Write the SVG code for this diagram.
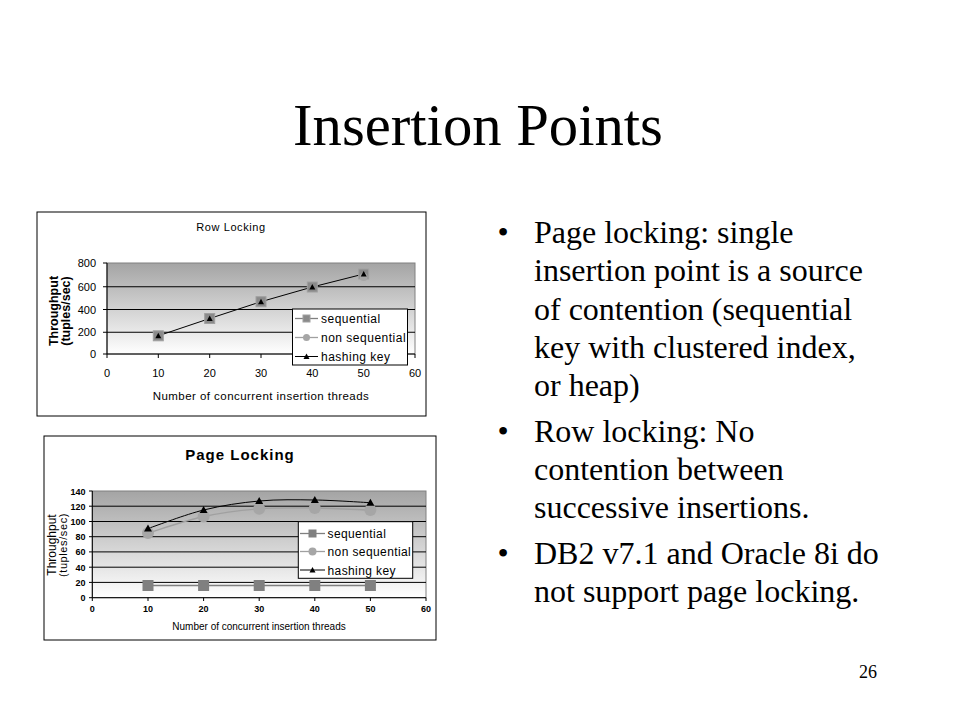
<svg xmlns="http://www.w3.org/2000/svg" xmlns:xlink="http://www.w3.org/1999/xlink" width="960" height="720" viewBox="0 0 960 720">
<defs>
<style>
.serif{font-family:"Liberation Serif","Times New Roman",serif;fill:#000}
.sans{font-family:"Liberation Sans",Arial,sans-serif;fill:#000}
.frame{fill:#fff;stroke:#000;stroke-width:1}
.grid{stroke:#000;stroke-width:1}
.pborder{fill:none;stroke:#808080;stroke-width:1}
.axis{stroke:#000;stroke-width:1;fill:none}
.tick{stroke:#000;stroke-width:1}
.seqline{stroke:#808080;stroke-width:1.3;fill:none}
.nsline{stroke:#a0a0a0;stroke-width:1.3;fill:none}
.hkline{stroke:#000;stroke-width:1;fill:none}
.seqm{fill:#8a8a8a;stroke:#a0a0a0;stroke-width:1}
.nsm{fill:#a6a6a6}
.hkm{fill:#000}
.legend{fill:#fff;stroke:#000;stroke-width:1}
</style>
<linearGradient id="bg" x1="0" y1="0" x2="0" y2="1">
<stop offset="0" stop-color="#a4a4a4"/>
<stop offset="1" stop-color="#ffffff"/>
</linearGradient>
<path id="tri" d="M0,-4 L4,3 L-4,3 Z"/>
<path id="tris" d="M0,-3 L3,2.5 L-3,2.5 Z"/>
</defs>
<rect width="960" height="720" fill="#fff"/>

<g id="title">
<text class="serif" x="478" y="145" font-size="58.67" text-anchor="middle">Insertion Points</text>
</g>

<g id="bullets" class="serif" font-size="32">
<text class="serif" x="503" y="243" text-anchor="middle">•</text>
<text class="serif" x="534" y="243">Page locking: single</text>
<text class="serif" x="534" y="281">insertion point is a source</text>
<text class="serif" x="534" y="319.5">of contention (sequential</text>
<text class="serif" x="534" y="357.5">key with clustered index,</text>
<text class="serif" x="534" y="396">or heap)</text>
<text class="serif" x="503" y="441.5" text-anchor="middle">•</text>
<text class="serif" x="534" y="441.5">Row locking: No</text>
<text class="serif" x="534" y="480">contention between</text>
<text class="serif" x="534" y="518">successive insertions.</text>
<text class="serif" x="503" y="564" text-anchor="middle">•</text>
<text class="serif" x="534" y="564">DB2 v7.1 and Oracle 8i do</text>
<text class="serif" x="534" y="602">not support page locking.</text>
</g>

<g id="chart-row">
<rect class="frame" x="37" y="212" width="389" height="204"/>
<text class="sans" x="231" y="231" font-size="11" letter-spacing="0.6" text-anchor="middle">Row Locking</text>
<rect x="107" y="263" width="308" height="91" fill="url(#bg)"/>
<rect class="pborder" x="107" y="263" width="308" height="91"/>
<line class="grid" x1="107" y1="286.75" x2="415" y2="286.75"/>
<line class="grid" x1="107" y1="309.5" x2="415" y2="309.5"/>
<line class="grid" x1="107" y1="332.25" x2="415" y2="332.25"/>
<line class="axis" x1="107" y1="263" x2="107" y2="354"/>
<line class="axis" x1="107" y1="354" x2="415" y2="354"/>
<g class="tick">
<line x1="103" y1="263" x2="107" y2="263"/><line x1="103" y1="286.75" x2="107" y2="286.75"/><line x1="103" y1="309.5" x2="107" y2="309.5"/><line x1="103" y1="332.25" x2="107" y2="332.25"/><line x1="103" y1="354" x2="107" y2="354"/>
<line x1="107" y1="354" x2="107" y2="358"/><line x1="158.3" y1="354" x2="158.3" y2="358"/><line x1="209.7" y1="354" x2="209.7" y2="358"/><line x1="261" y1="354" x2="261" y2="358"/><line x1="312.3" y1="354" x2="312.3" y2="358"/><line x1="363.7" y1="354" x2="363.7" y2="358"/><line x1="415" y1="354" x2="415" y2="358"/>
</g>
<g class="sans" font-size="11" text-anchor="end">
<text class="sans" x="96" y="267">800</text>
<text class="sans" x="96" y="290.5">600</text>
<text class="sans" x="96" y="313.5">400</text>
<text class="sans" x="96" y="336">200</text>
<text class="sans" x="96" y="358">0</text>
</g>
<g class="sans" font-size="11" text-anchor="middle">
<text class="sans" x="107" y="377">0</text>
<text class="sans" x="158.3" y="377">10</text>
<text class="sans" x="209.7" y="377">20</text>
<text class="sans" x="261" y="377">30</text>
<text class="sans" x="312.3" y="377">40</text>
<text class="sans" x="363.7" y="377">50</text>
<text class="sans" x="415" y="377">60</text>
</g>
<text class="sans" x="261" y="400" font-size="11.5" letter-spacing="0.45" text-anchor="middle">Number of concurrent insertion threads</text>
<text class="sans" transform="translate(57.5,311) rotate(-90)" font-size="12.5" font-weight="bold" text-anchor="middle">Throughput</text>
<text class="sans" transform="translate(70,311) rotate(-90)" font-size="12.5" font-weight="bold" text-anchor="middle">(tuples/sec)</text>
<polyline class="hkline" points="158.3,335.8 209.7,318.5 261,301.7 312.3,287 363.7,274"/>
<g class="seqm">
<rect x="153.3" y="330.8" width="10" height="10"/>
<rect x="204.7" y="313.5" width="10" height="10"/>
<rect x="256" y="296.7" width="10" height="10"/>
<rect x="307.3" y="282" width="10" height="10"/>
<rect x="358.7" y="269" width="10" height="10"/>
</g>
<circle class="nsm" cx="363.7" cy="277" r="4"/>
<g class="hkm">
<use xlink:href="#tris" x="158.3" y="335.8"/>
<use xlink:href="#tris" x="209.7" y="318.5"/>
<use xlink:href="#tris" x="261" y="301.7"/>
<use xlink:href="#tris" x="312.3" y="287"/>
<use xlink:href="#tris" x="363.7" y="274"/>
</g>
<g id="legend-row">
<rect class="legend" x="292.5" y="309" width="115" height="56"/>
<line class="seqline" x1="295" y1="318.5" x2="318" y2="318.5"/>
<rect class="seqm" x="303" y="315" width="7" height="7"/>
<line class="nsline" x1="295" y1="337.5" x2="318" y2="337.5"/>
<circle class="nsm" cx="306.5" cy="337.5" r="3.5"/>
<line class="hkline" x1="295" y1="356.5" x2="318" y2="356.5"/>
<use class="hkm" xlink:href="#tris" x="306.5" y="356.5"/>
<text class="sans" x="321" y="322.5" font-size="12" letter-spacing="0.5">sequential</text>
<text class="sans" x="321" y="341.5" font-size="12" letter-spacing="0.5">non sequential</text>
<text class="sans" x="321" y="360.5" font-size="12" letter-spacing="0.5">hashing key</text>
</g>
</g>

<g id="chart-page">
<rect class="frame" x="44" y="436" width="392" height="204"/>
<text class="sans" x="240" y="460" font-size="15" font-weight="bold" letter-spacing="1" text-anchor="middle">Page Locking</text>
<rect x="92.3" y="491" width="333.7" height="106.7" fill="url(#bg)"/>
<rect class="pborder" x="92.3" y="491" width="333.7" height="106.7"/>
<g class="grid">
<line x1="92.3" y1="506.2" x2="426" y2="506.2"/>
<line x1="92.3" y1="521.5" x2="426" y2="521.5"/>
<line x1="92.3" y1="536.7" x2="426" y2="536.7"/>
<line x1="92.3" y1="551.9" x2="426" y2="551.9"/>
<line x1="92.3" y1="567.2" x2="426" y2="567.2"/>
<line x1="92.3" y1="582.4" x2="426" y2="582.4"/>
</g>
<line class="axis" x1="92.3" y1="491" x2="92.3" y2="597.7"/>
<line class="axis" x1="92.3" y1="597.7" x2="426" y2="597.7"/>
<g class="tick">
<line x1="89" y1="491" x2="92.3" y2="491"/><line x1="89" y1="506.2" x2="92.3" y2="506.2"/><line x1="89" y1="521.5" x2="92.3" y2="521.5"/><line x1="89" y1="536.7" x2="92.3" y2="536.7"/><line x1="89" y1="551.9" x2="92.3" y2="551.9"/><line x1="89" y1="567.2" x2="92.3" y2="567.2"/><line x1="89" y1="582.4" x2="92.3" y2="582.4"/><line x1="89" y1="597.7" x2="92.3" y2="597.7"/>
<line x1="92.3" y1="597.7" x2="92.3" y2="601"/><line x1="148" y1="597.7" x2="148" y2="601"/><line x1="203.6" y1="597.7" x2="203.6" y2="601"/><line x1="259.2" y1="597.7" x2="259.2" y2="601"/><line x1="314.8" y1="597.7" x2="314.8" y2="601"/><line x1="370.4" y1="597.7" x2="370.4" y2="601"/><line x1="426" y1="597.7" x2="426" y2="601"/>
</g>
<g class="sans" font-size="9" font-weight="bold" text-anchor="end">
<text class="sans" x="85.5" y="494.5">140</text>
<text class="sans" x="85.5" y="509.7">120</text>
<text class="sans" x="85.5" y="525">100</text>
<text class="sans" x="85.5" y="540.2">80</text>
<text class="sans" x="85.5" y="555.4">60</text>
<text class="sans" x="85.5" y="570.7">40</text>
<text class="sans" x="85.5" y="585.9">20</text>
<text class="sans" x="85.5" y="601.2">0</text>
</g>
<g class="sans" font-size="9" font-weight="bold" text-anchor="middle">
<text class="sans" x="92.3" y="612">0</text>
<text class="sans" x="148" y="612">10</text>
<text class="sans" x="203.6" y="612">20</text>
<text class="sans" x="259.2" y="612">30</text>
<text class="sans" x="314.8" y="612">40</text>
<text class="sans" x="370.4" y="612">50</text>
<text class="sans" x="426" y="612">60</text>
</g>
<text class="sans" x="259" y="630" font-size="10" text-anchor="middle">Number of concurrent insertion threads</text>
<text class="sans" transform="translate(56,545) rotate(-90)" font-size="12" text-anchor="middle">Throughput</text>
<text class="sans" transform="translate(67,545) rotate(-90)" font-size="11" letter-spacing="0.6" text-anchor="middle">(tuples/sec)</text>
<line class="seqline" x1="148" y1="585.5" x2="370.4" y2="585.5"/>
<path class="nsline" d="M148,533 C157.3,530.25 185.1,520.5 203.6,516.5 C222.1,512.5 240.7,510.2 259.2,508.8 C277.7,507.4 296.3,507.8 314.8,508 C333.3,508.2 361.1,509.7 370.4,510"/>
<path class="hkline" d="M148,528.5 C157.3,525.4 185.1,514.6 203.6,510 C222.1,505.4 240.7,502.7 259.2,501 C277.7,499.3 296.3,499.7 314.8,500 C333.3,500.3 361.1,502.25 370.4,502.7"/>
<g fill="#808080">
<rect x="142.5" y="580" width="11" height="11"/>
<rect x="198.1" y="580" width="11" height="11"/>
<rect x="253.7" y="580" width="11" height="11"/>
<rect x="309.3" y="580" width="11" height="11"/>
<rect x="364.9" y="580" width="11" height="11"/>
</g>
<g class="nsm">
<circle cx="148" cy="533" r="6"/>
<circle cx="203.6" cy="516.5" r="6"/>
<circle cx="259.2" cy="508.8" r="6"/>
<circle cx="314.8" cy="508" r="6"/>
<circle cx="370.4" cy="510" r="6"/>
</g>
<g class="hkm">
<use xlink:href="#tri" x="148" y="528.5"/>
<use xlink:href="#tri" x="203.6" y="510"/>
<use xlink:href="#tri" x="259.2" y="501"/>
<use xlink:href="#tri" x="314.8" y="500"/>
<use xlink:href="#tri" x="370.4" y="502.7"/>
</g>
<g id="legend-page">
<rect class="legend" x="298.3" y="521.7" width="114.4" height="56.6"/>
<line class="seqline" x1="300" y1="533.5" x2="325" y2="533.5"/>
<rect fill="#808080" x="308.5" y="529.5" width="8" height="8"/>
<line class="nsline" x1="300" y1="551.5" x2="325" y2="551.5"/>
<circle class="nsm" cx="312.5" cy="551.5" r="4"/>
<line class="hkline" x1="300" y1="570" x2="325" y2="570"/>
<use class="hkm" xlink:href="#tris" x="312.5" y="570"/>
<text class="sans" x="327.5" y="538" font-size="12" letter-spacing="0.4">sequential</text>
<text class="sans" x="327.5" y="556" font-size="12" letter-spacing="0.4">non sequential</text>
<text class="sans" x="327.5" y="574.5" font-size="12" letter-spacing="0.4">hashing key</text>
</g>
</g>

<g id="page-number">
<text class="serif" x="868" y="678" font-size="18" text-anchor="middle">26</text>
</g>
</svg>
